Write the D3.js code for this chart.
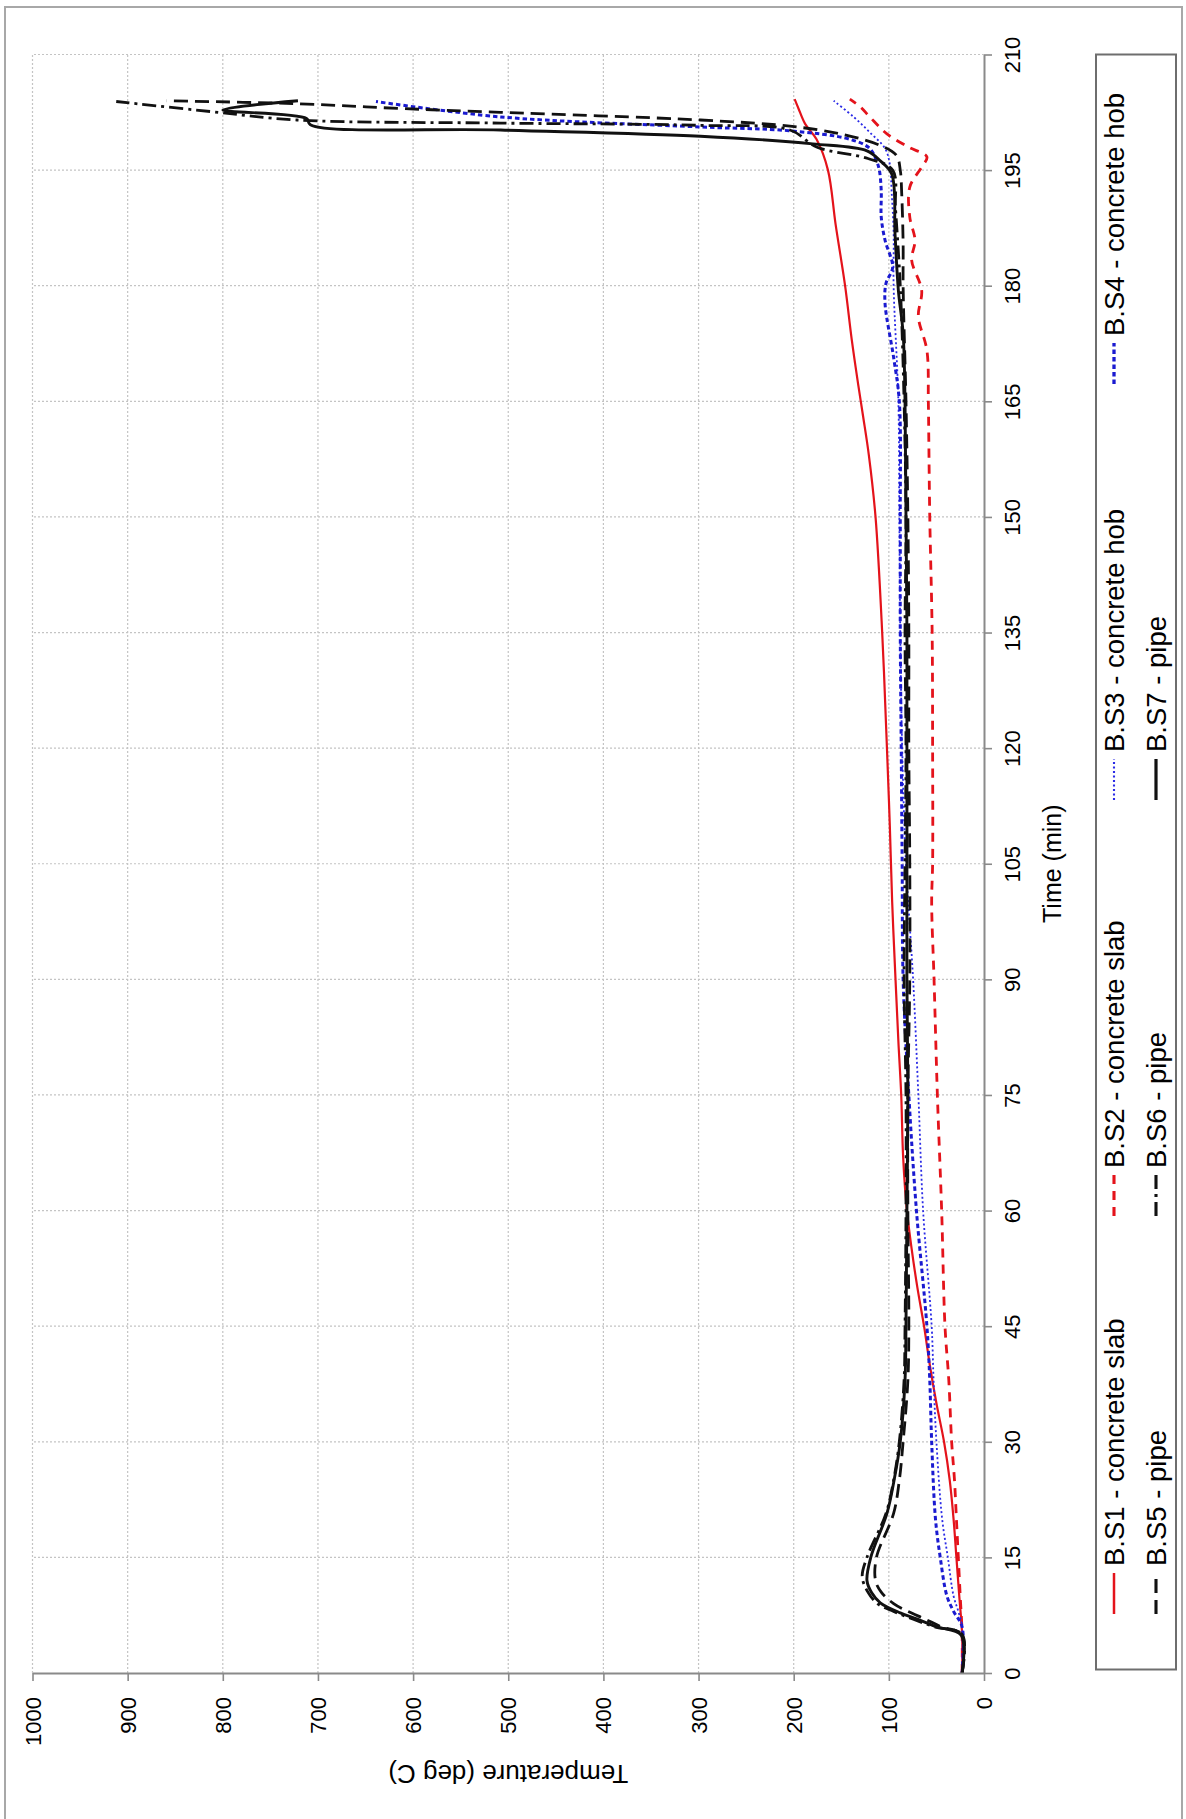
<!DOCTYPE html>
<html>
<head>
<meta charset="utf-8">
<script src="https://cdn.jsdelivr.net/npm/d3@7"></script>
<style>
  body { margin: 0; background: #fff; }
  svg { display: block; }
  text { font-family: "Liberation Sans", Arial, sans-serif; fill: #000; }
</style>
</head>
<body>
<svg id="chart" width="1186" height="1819"></svg>
<script>
// Thermocouple readings, [time (min), temperature (deg C)]
const bs1 = [[0,23],[5,23],[10,26],[15,29],[20,32],[25,36],[30,42],[35,50],[40,57],[45,63],[50,70],[55,76],[60,81],[67,85],[75,87],[82,90],[90,93],[100,96.5],[110,99],[120,102],[135,107],[150,114],[158,121],[163,127],[167,132],[173,139],[180,146],[188,156],[195,164],[199,176],[201,188],[203,195],[204.2,199]];
const bs2 = [[0,23],[5,23],[10,25],[15,27],[20,29],[25,31],[30,34],[38,37],[45,41],[60,44.5],[75,49],[90,52.5],[100,55],[105,54],[120,54],[135,54.5],[150,57],[160,58],[165,58.5],[171.6,60],[176,69],[179.4,65.5],[183.3,76],[185.9,72.5],[188.9,78],[192.8,78],[195.4,65.5],[196.7,60],[198,79.5],[199.7,102],[201.9,120],[203.2,130],[204.2,141]];
const bs3 = [[0,23],[6,23],[8,27],[10,32],[15,38],[20,44],[30,50],[38,53],[45,55],[60,64],[75,69],[90,74.5],[105,82],[120,86],[135,88],[150,89],[165,90],[180,95],[187,95],[192,97],[195.8,99],[197.8,104],[199.9,120],[201.9,137],[204,158]];
const bs4 = [[0,23],[6,23],[8,32],[10,39],[15,46],[20,51],[30,55],[38,57],[45,60],[60,71],[75,79],[90,85],[105,86],[120,87],[135,88],[150,88],[165,89],[170.7,95],[177.7,104],[180.3,103],[182.4,96],[185.9,104],[188.9,108],[192.3,108],[195,110],[196.2,113],[197.8,120],[199,141],[200.1,204],[200.6,298],[201.9,508],[203.9,639]];
const bs5 = [[0,23],[5,23],[6,45],[7,62],[8,80],[9,95],[10.5,108],[12,114],[15,113],[20.7,95],[25,89],[30,85],[38,80],[45,79],[60,80],[75,80],[90,78],[105,78],[120,79],[135,79],[150,80],[165,82],[180,85],[185.5,85],[192,86.5],[195,88],[196.9,92],[198.2,109],[199.7,151],[200.7,204],[201.5,298],[202.5,508],[203,614],[203.6,719],[204,859]];
const bs6 = [[0,23],[5,23],[6,52],[7,75],[8,95],[9,112],[10.5,122],[12.5,128],[15,123],[20.7,103],[25,95],[30,89],[38,84],[45,83],[60,82],[75,82],[90,84],[105,83],[120,82],[135,83],[150,82],[165,84],[180,88],[190,93],[195,96],[196.5,122],[198,176],[200.2,204],[200.8,298],[201.1,508],[201.5,722],[202.6,813],[203.9,912]];
const bs7 = [[0,23],[4.9,24],[6,50],[7,70],[7.8,88],[9.1,109],[10.4,118],[12,123],[15,119],[20.7,102],[25,94.5],[30,88],[38,83],[45,82],[60,81],[75,80],[90,81],[105,81],[120,81],[135,81],[150,82],[165,83],[173.8,85],[179.4,90],[186.7,93.5],[194.5,97],[196.2,109],[197.5,123],[198.4,180],[199.4,298],[200.2,508],[200.9,708],[201.7,712],[202.8,800],[204,721]];

const seriesNames = ["B.S1 - concrete slab","B.S2 - concrete slab","B.S3 - concrete hob","B.S4 - concrete hob","B.S5 - pipe","B.S6 - pipe","B.S7 - pipe"];
const seriesData = [bs1, bs2, bs3, bs4, bs5, bs6, bs7];

const timeTicks = d3.range(0, 211, 15);
const tempTicks = d3.range(0, 1001, 100);

// line appearance for each series
const styles = [
  {color:"#e4131b", width:2.2, dash:null},
  {color:"#e4131b", width:2.8, dash:"9,7"},
  {color:"#2a2ae6", width:1.8, dash:"2,2.5"},
  {color:"#1a1ad0", width:3.0, dash:"4.5,3"},
  {color:"#111",    width:2.8, dash:"14,7"},
  {color:"#111",    width:2.8, dash:"14,5,3,5"},
  {color:"#111",    width:2.9, dash:null}
];

const svg = d3.select("#chart");

// outer frame
svg.append("rect").attr("x",5).attr("y",7).attr("width",1177).attr("height",1830)
  .attr("fill","none").attr("stroke","#a8a8a8").attr("stroke-width",2);

// the plot is laid out turned a quarter turn: temperature runs right-to-left, time runs upward
const x = d3.scaleLinear().domain([0,1000]).range([984, 32.5]);
const y = d3.scaleLinear().domain([0,210]).range([1673, 54.5]);

// grid
const grid = svg.append("g").attr("stroke","#c4c4c4").attr("stroke-width",1.2).attr("stroke-dasharray","2,2");
grid.selectAll("line.v").data(tempTicks.filter(d=>d>0)).join("line")
  .attr("x1",d=>x(d)).attr("x2",d=>x(d)).attr("y1",y(0)).attr("y2",y(210));
grid.selectAll("line.h").data(timeTicks.filter(d=>d>0)).join("line")
  .attr("x1",x(0)).attr("x2",x(1000)).attr("y1",d=>y(d)).attr("y2",d=>y(d));

// curves
const line = d3.line().x(d=>x(d[1])).y(d=>y(d[0])).curve(d3.curveCatmullRom.alpha(0.5));
svg.append("g").selectAll("path").data(seriesData).join("path")
  .attr("d", d=>line(d))
  .attr("fill","none")
  .attr("stroke",(d,i)=>styles[i].color)
  .attr("stroke-width",(d,i)=>styles[i].width)
  .attr("stroke-dasharray",(d,i)=>styles[i].dash)
  .attr("stroke-linejoin","round");

// time axis (right edge)
const tAxis = svg.append("g").attr("transform",`translate(${x(0)},0)`)
  .call(d3.axisRight(y).tickValues(timeTicks).tickSize(8).tickSizeOuter(0));
// temperature axis (bottom edge)
const TAxis = svg.append("g").attr("transform",`translate(0,${y(0)})`)
  .call(d3.axisBottom(x).tickValues(tempTicks).tickSize(8).tickSizeOuter(0));

[tAxis, TAxis].forEach(a=>{
  a.select(".domain").attr("stroke","#8a8a8a").attr("stroke-width",2);
  a.selectAll(".tick line").attr("stroke","#8a8a8a").attr("stroke-width",1.6);
  a.selectAll(".tick text").remove();
});

tAxis.selectAll(".tick").append("text")
  .attr("transform","translate(28,0) rotate(-90)")
  .attr("text-anchor","middle").attr("dominant-baseline","central")
  .style("font-size","22px").text(d=>d);

TAxis.selectAll(".tick").append("text")
  .attr("transform","translate(0,24) rotate(-90)")
  .attr("text-anchor","end").attr("dominant-baseline","central")
  .style("font-size","22px").text(d=>d);

// axis titles
svg.append("text").attr("transform",`translate(1052,${(y(0)+y(210))/2}) rotate(-90)`)
  .attr("text-anchor","middle").attr("dominant-baseline","central")
  .style("font-size","25px").text("Time (min)");
svg.append("text").attr("transform",`translate(${(x(0)+x(1000))/2},1774) rotate(180)`)
  .attr("text-anchor","middle").attr("dominant-baseline","central")
  .style("font-size","26px").text("Temperature (deg C)");

// legend
svg.append("rect").attr("x",1096).attr("y",54.5).attr("width",80).attr("height",1615)
  .attr("fill","#fff").attr("stroke","#6e6e6e").attr("stroke-width",2);

const legendRows = [1114, 1156];
const legendCols = [1614, 1216, 800, 384];
const slots = [[0,0],[0,1],[0,2],[0,3],[1,0],[1,1],[1,2]];
const leg = svg.append("g").selectAll("g").data(seriesNames).join("g")
  .attr("transform",(d,i)=>`translate(${legendRows[slots[i][0]]},${legendCols[slots[i][1]]})`);
leg.append("line").attr("x1",0).attr("x2",0).attr("y1",0).attr("y2",-41)
  .attr("stroke",(d,i)=>styles[i].color)
  .attr("stroke-width",(d,i)=>styles[i].width+0.3)
  .attr("stroke-dasharray",(d,i)=>styles[i].dash);
leg.append("text").attr("transform","translate(0,-48) rotate(-90)")
  .attr("text-anchor","start").attr("dominant-baseline","central")
  .style("font-size","27.5px").text(d=>d);
</script>
</body>
</html>
